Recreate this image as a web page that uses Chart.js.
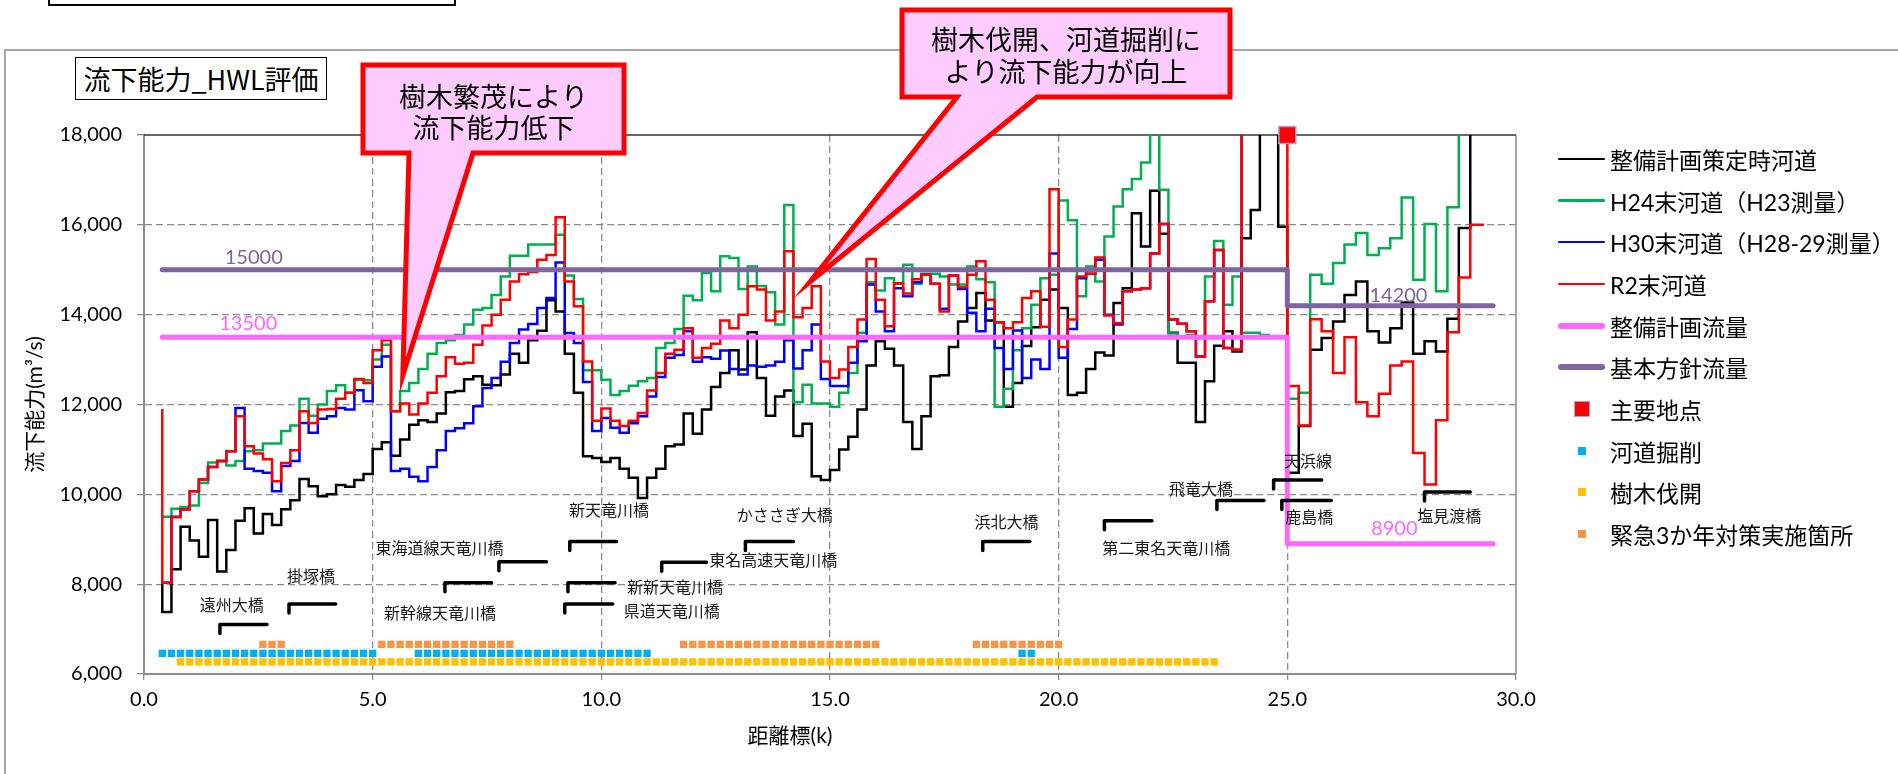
<!DOCTYPE html>
<html lang="ja">
<head>
<meta charset="utf-8">
<title>流下能力_HWL評価</title>
<script src="https://cdn.jsdelivr.net/npm/chart.js@4.4.1/dist/chart.umd.min.js"></script>
<style>
  html, body { margin: 0; padding: 0; background: #fff; }
  body { position: relative; width: 1898px; height: 774px; overflow: hidden;
         font-family: Lato, "Noto Sans CJK JP", sans-serif; color: #000; }
  .top-box { position: absolute; left: 48px; top: -40px; width: 404px; height: 42px; border: 2px solid #000; }
  .frame { position: absolute; left: 4px; top: 49px; width: 2000px; height: 900px; border: 2px solid #a6a6a6; }
  .chart-title { position: absolute; left: 75px; top: 57px; width: 250px; height: 41px;
                 border: 1.5px solid #000; background: #fff; font-size: 27px; line-height: 41px;
                 text-align: center; font-family: "Noto Sans CJK JP", sans-serif; }
  #flowChart { position: absolute; left: 0; top: 0; }
  #legend { position: absolute; left: 1558px; top: 138px; font-family: Lato, "Noto Sans CJK JP", sans-serif; }
  #legend .item { display: flex; align-items: center; height: 41.7px; font-size: 23px; white-space: nowrap; }
  #legend .mark { position: relative; width: 47px; height: 20px; margin-right: 5px; }
</style>
</head>
<body>
<div class="top-box"></div>
<div class="frame"></div>
<div class="chart-title">流下能力_HWL評価</div>
<canvas id="flowChart" width="1898" height="774"></canvas>
<div id="legend"></div>

<script>
// 測点(km)：24.8kまでは200m間隔、25.0k〜29.0kは250m間隔
const stations = [];
for (let k = 4; k <= 248; k += 2) stations.push(k / 10);
for (let k = 2500; k <= 2900; k += 25) stations.push(k / 100);

// 流下能力(m3/s) 各測点から次の測点まで
const planChannel = [
  7380, 8330, 9280, 8970, 8610, 9430, 8280, 8760, 9410, 9690,
  9130, 9560, 9320, 9670, 9870, 10340, 10180, 9960, 10000, 10210,
  10170, 10320, 10450, 11010, 11160, 10860, 11220, 11550, 11650, 11610,
  11800, 12270, 12300, 12560, 12630, 12440, 12430, 12670, 13130, 12930,
  13430, 13640, 14320, 14070, 13130, 12260, 10850, 10810, 10720, 10810,
  10570, 10370, 9920, 10370, 10570, 11070, 11110, 11800, 11350, 11890,
  12390, 12700, 13210, 12780, 13610, 12590, 11750, 12180, 12310, 11300,
  11570, 10400, 10320, 10540, 11000, 11280, 11890, 12870, 13410, 13240,
  12870, 11610, 11010, 11740, 12630, 12650, 13280, 13850, 14150, 14480,
  13870, 13830, 11950, 12480, 13300, 13720, 14330, 14560, 14150, 12210,
  12260, 12790, 13160, 13090, 14260, 14590, 16260, 15520, 16760, 15800,
  13600, 12930, 12930, 11610, 12520, 13310, 13630, 13180, 15700, 16330,
  19000, 19000, 15960,
  10480, 11520, 13220, 13480, 13850, 14440, 14740, 13630, 13380, 13700,
  14270, 13130, 13410, 13180, 13910, 15930, 19000
];
const h24Channel = [
  9500, 9680, 9720, 9750, 10250, 10710, 10740, 10640, 10740, 10960,
  10980, 11130, 11130, 11410, 11530, 12130, 11750, 12000, 12300, 12430,
  12260, 12550, 12540, 13000, 13330, 11850, 12300, 12480, 12790, 13130,
  13370, 13430, 13550, 13780, 14110, 14150, 14440, 14850, 15310, 15310,
  15560, 15560, 15560, 15780, 14870, 14350, 12760, 12760, 12550, 12210,
  12300, 12420, 12520, 12590, 13260, 13370, 13680, 14420, 14320, 14930,
  14520, 15300, 15260, 14570, 15070, 14640, 14500, 13780, 16440, 12050,
  12440, 12020, 12020, 11950, 12260, 12700, 13600, 14720, 14540, 14810,
  14690, 15110, 14690, 14910, 14910, 14850, 14670, 14670, 15070, 14790,
  14720, 11950, 12350, 13210, 13700, 14220, 14810, 14890, 16540, 16100,
  14410, 15070, 14740, 15740, 16410, 16790, 17020, 17390, 19000, 16780,
  13580, 13500, 13550, 13520, 14850, 15640, 14220, 14850, 13600, 13600,
  13550, 13500, 13500,
  12130, 12260, 14890, 14690, 15150, 15560, 15820, 15330, 15480, 15700,
  16610, 14780, 16020, 14520, 16390, 19000
];
const h30Channel = [
  8030, 9500, 9660, 10070, 10330, 10610, 10740, 10960, 11920, 10570,
  10520, 10480, 10070, 10630, 10740, 11590, 11370, 11680, 11740, 11920,
  11890, 12320, 12070, 12840, 13070, 10520, 10570, 10390, 10290, 10610,
  10980, 11410, 11470, 11580, 11960, 12370, 12590, 12950, 13370, 13670,
  13790, 14150, 14370, 15160, 13590, 13370, 12500, 11410, 11700, 11480,
  11370, 11580, 11740, 12180, 12610, 13040, 13100, 13630, 12950, 13050,
  13020, 13200, 12790, 12670, 12870, 12840, 12870, 12950, 13430, 12800,
  13210, 13780, 12570, 12410, 12410, 12930, 13410, 14670, 14070, 13630,
  14590, 14410, 14720, 14890, 14690, 14130, 14870, 14570, 14040, 13630,
  14130, 13260, 12790, 13650, 12590, 13000, 12790, 15360, 13040, 13680,
  14810, 14910, 15220, 14000, 13780, 14520, 14560, 14590, 15360, 16020,
  13890, 13800, 13630, 13070, 14300, 15440, 13260, 13220, 19000, 19000,
  19000, 19000, 19000
];
const r2Channel = [
  8030, 9490, 9660, 10070, 10330, 10610, 10740, 10960, 11740, 11070,
  10910, 10780, 10290, 10700, 10980, 11850, 11590, 11890, 11900, 12130,
  12260, 12570, 12480, 13210, 13430, 11850, 12020, 11780, 12020, 12260,
  12630, 13050, 12910, 12930, 13330, 13760, 14000, 14330, 14740, 14900,
  14950, 15220, 15330, 16170, 14740, 14190, 12960, 11640, 11910, 11640,
  11520, 11640, 11810, 12310, 12700, 13130, 13220, 13700, 13040, 13260,
  13350, 13870, 13700, 14000, 14630, 14560, 13870, 14070, 15410, 13940,
  14150, 14630, 12960, 12590, 12780, 13280, 13890, 15240, 14330, 13740,
  14700, 14470, 14790, 14890, 14690, 14070, 14870, 14610, 14890, 15190,
  14330, 13830, 13700, 13830, 14370, 14520, 13730, 16790, 13280, 13890,
  14850, 14910, 15270, 13980, 13810, 14520, 14560, 14590, 15360, 16020,
  13890, 13800, 13630, 13070, 14300, 15440, 13260, 13220, 19000, 19000,
  19000, 19000, 19000,
  12410, 11530, 13900, 13630, 12700, 13500, 12050, 11740, 12240, 12870,
  12960, 10920, 10220, 11650, 13610, 14830, 16000
];
// 0.4k端の立ち上がり
const planLeadIn = 8030;
const r2LeadIn = 11900;
// 各河道の終点(km)
const planEnd = 29.25, h24End = 29.0, h30End = 25.0, r2End = 29.3;

// 目標流量
const maintPlanKm = [0.4, 25.0, 25.0, 29.5];
const maintPlanFlow = [13500, 13500, 8900, 8900];
const basicPlanKm = [0.4, 25.0, 25.0, 29.5];
const basicPlanFlow = [15000, 15000, 14200, 14200];

// 主要地点
const keyPointKm = [25.0];
const keyPointFlow = [18000];

// 対策区間(km 範囲, 200mピッチ)
const excavationRanges = [[0.4, 5.0], [6.0, 11.0], [19.2, 19.4]];
const clearingRanges = [[0.8, 23.4]];
const urgentRanges = [[2.6, 3.0], [5.2, 8.0], [11.8, 16.0], [18.2, 20.0]];
const excavationLevel = 6460, clearingLevel = 6270, urgentLevel = 6660;

// 橋梁
const bridgeNames = ['遠州大橋', '掛塚橋', '新幹線天竜川橋', '東海道線天竜川橋', '新天竜川橋',
  '新新天竜川橋', '県道天竜川橋', '東名高速天竜川橋', 'かささぎ大橋', '浜北大橋',
  '第二東名天竜川橋', '飛竜大橋', '天浜線', '鹿島橋', '塩見渡橋'];
const bridgeFrom = [1.66, 3.17, 6.58, 7.76, 9.31, 9.27, 9.20, 11.32, 13.15, 18.34, 21.0, 23.46, 24.7, 24.88, 28.0];
const bridgeTo = [2.69, 4.19, 7.60, 8.80, 10.33, 10.30, 10.25, 12.30, 14.20, 19.37, 22.04, 24.49, 25.75, 25.96, 29.0];
const bridgeLevel = [7100, 7560, 8030, 8500, 8950, 8030, 7560, 8490, 8950, 8950, 9410, 9860, 10320, 9860, 10050];

// 橋梁名の表示位置(km, 流量)
const bridgeLabelKm = [1.92, 3.65, 6.47, 6.46, 10.17, 11.61, 11.54, 13.76, 14.01, 18.86, 22.35, 23.11, 25.45, 25.48, 28.54];
const bridgeLabelFlow = [7536, 8181, 7365, 8805, 9651, 7937, 7414, 8538, 9539, 9390, 8805, 10118, 10748, 9495, 9517];

const COLORS = {
    plan: '#000000', h24: '#00B050', h30: '#0000FF', r2: '#FF0000',
    maint: '#FF66FF', basic: '#8064A2',
    key: '#FF0000', excavation: '#00B0F0', clearing: '#FFC000', urgent: '#F79646'
};
const JP_FONT = 'Lato, "Noto Sans CJK JP", sans-serif';

function expandRanges(ranges) {
    const km = [];
    ranges.forEach(([a, b]) => {
        for (let k = Math.round(a * 10); k <= Math.round(b * 10); k += 2) km.push(k / 10);
    });
    return km;
}

function stepSeries(label, values, endKm, color, order, leadIn) {
    const pts = values.map((v, i) => ({ x: stations[i], y: v }));
    pts.push({ x: endKm, y: values[values.length - 1] });
    if (leadIn !== undefined) pts.unshift({ x: stations[0], y: leadIn });
    return { label, data: pts, borderColor: color, backgroundColor: color, borderWidth: 2.5,
             stepped: true, pointRadius: 0, fill: false, order };
}

function flowLine(label, km, flow, color, order) {
    return { label, data: km.map((k, i) => ({ x: k, y: flow[i] })), borderColor: color,
             backgroundColor: color, borderWidth: 5, borderCapStyle: 'round', borderJoinStyle: 'round',
             pointRadius: 0, fill: false, order };
}

function markerRow(label, km, level, color, order) {
    return { label, data: km.map(k => ({ x: k, y: level })), showLine: false, pointStyle: 'rect',
             pointRadius: 5.2, borderWidth: 0, backgroundColor: color, order };
}

function bridgeMark(i) {
    return { label: bridgeNames[i], data: [
                 { x: bridgeFrom[i], y: bridgeLevel[i] - 200 },
                 { x: bridgeFrom[i], y: bridgeLevel[i] },
                 { x: bridgeTo[i], y: bridgeLevel[i] }
             ], borderColor: '#000', borderWidth: 3.5, borderCapStyle: 'round',
             borderJoinStyle: 'round', pointRadius: 0, fill: false, order: 1 };
}

// 数値ラベル(流量線)
const flowLabels = [
    { value: basicPlanFlow[0], km: 2.40, lift: 12, color: COLORS.basic },
    { value: maintPlanFlow[0], km: 2.28, lift: 14, color: COLORS.maint },
    { value: basicPlanFlow[2], km: 27.43, lift: 10, color: COLORS.basic },
    { value: maintPlanFlow[2], km: 27.34, lift: 15, color: COLORS.maint }
];

// 吹き出し
const callouts = [
    { lines: ['樹木繁茂により', '流下能力低下'], box: [363, 65, 624, 153], base: [409, 473],
      tipKm: 5.66, tipFlow: 12650, textY: [97, 128] },
    { lines: ['樹木伐開、河道掘削に', 'より流下能力が向上'], box: [902, 10, 1230, 97], base: [957, 1037],
      tipKm: 14.56, tipFlow: 14730, textY: [40, 72] }
];

// 横軸タイトル(グラフ中央より少し左寄せ)
const xTitle = { text: '距離標(k)', x: 790, y: 736 };

function drawCallout(ctx, c, x, y) {
    const [x1, y1, x2, y2] = c.box;
    const tx = x.getPixelForValue(c.tipKm), ty = y.getPixelForValue(c.tipFlow);
    ctx.save();
    ctx.beginPath();
    ctx.moveTo(x1, y1);
    ctx.lineTo(x2, y1);
    ctx.lineTo(x2, y2);
    ctx.lineTo(c.base[1], y2);
    ctx.lineTo(tx, ty);
    ctx.lineTo(c.base[0], y2);
    ctx.lineTo(x1, y2);
    ctx.closePath();
    ctx.fillStyle = '#FFCCFF';
    ctx.fill();
    ctx.lineWidth = 5;
    ctx.lineJoin = 'miter';
    ctx.strokeStyle = '#FF0000';
    ctx.stroke();
    ctx.fillStyle = '#000';
    ctx.font = '27px "Noto Sans CJK JP", sans-serif';
    ctx.textAlign = 'center';
    ctx.textBaseline = 'middle';
    c.lines.forEach((t, i) => ctx.fillText(t, (x1 + x2) / 2, c.textY[i]));
    ctx.restore();
}

const annotationPlugin = {
    id: 'riverAnnotations',
    beforeDatasetsDraw(chart) {
        const { ctx, chartArea: a } = chart;
        ctx.save();
        ctx.lineWidth = 1.5;
        ctx.strokeStyle = '#8c8c8c';
        ctx.beginPath();
        ctx.moveTo(a.right, a.top);
        ctx.lineTo(a.right, a.bottom);
        ctx.stroke();
        ctx.strokeStyle = '#333';
        ctx.beginPath();
        ctx.moveTo(a.left, a.top);
        ctx.lineTo(a.right, a.top);
        ctx.stroke();
        ctx.restore();
    },
    afterDatasetsDraw(chart) {
        const { ctx, scales: { x, y } } = chart;
        ctx.save();
        ctx.textAlign = 'center';
        ctx.textBaseline = 'middle';
        ctx.font = '20px ' + JP_FONT;
        flowLabels.forEach(l => {
            ctx.fillStyle = l.color;
            ctx.fillText(String(l.value), x.getPixelForValue(l.km), y.getPixelForValue(l.value) - l.lift);
        });
        ctx.font = '16px "Noto Sans CJK JP", sans-serif';
        ctx.fillStyle = '#1a1a1a';
        bridgeNames.forEach((n, i) => {
            ctx.fillText(n, x.getPixelForValue(bridgeLabelKm[i]), y.getPixelForValue(bridgeLabelFlow[i]));
        });
        ctx.font = '21px ' + JP_FONT;
        ctx.fillStyle = '#000';
        ctx.fillText(xTitle.text, xTitle.x, xTitle.y);
        ctx.restore();
        callouts.forEach(c => drawCallout(ctx, c, x, y));
    }
};

document.addEventListener('DOMContentLoaded', function() {
    const gridColor = '#8c8c8c';
    const datasets = [
        stepSeries('整備計画策定時河道', planChannel, planEnd, COLORS.plan, 20, planLeadIn),
        stepSeries('H24末河道（H23測量）', h24Channel, h24End, COLORS.h24, 19),
        stepSeries('H30末河道（H28-29測量）', h30Channel, h30End, COLORS.h30, 18),
        stepSeries('R2末河道', r2Channel, r2End, COLORS.r2, 17, r2LeadIn),
        flowLine('整備計画流量', maintPlanKm, maintPlanFlow, COLORS.maint, 16),
        flowLine('基本方針流量', basicPlanKm, basicPlanFlow, COLORS.basic, 15),
        { label: '主要地点', data: keyPointKm.map((k, i) => ({ x: k, y: keyPointFlow[i] })),
          showLine: false, pointStyle: 'rect', pointRadius: 12, backgroundColor: COLORS.key,
          borderColor: '#B3A2C7', borderWidth: 1.5, clip: false, order: 14 },
        markerRow('河道掘削', expandRanges(excavationRanges), excavationLevel, COLORS.excavation, 13),
        markerRow('樹木伐開', expandRanges(clearingRanges), clearingLevel, COLORS.clearing, 12),
        markerRow('緊急3か年対策実施箇所', expandRanges(urgentRanges), urgentLevel, COLORS.urgent, 11)
    ];
    bridgeNames.forEach((n, i) => datasets.push(bridgeMark(i)));

    const ctx = document.getElementById('flowChart').getContext('2d');
    new Chart(ctx, {
        type: 'line',
        data: { datasets },
        options: {
            responsive: false,
            animation: false,
            events: [],
            layout: { padding: { top: 135, right: 382, bottom: 0, left: 0 } },
            plugins: { legend: { display: false }, tooltip: { enabled: false } },
            scales: {
                x: {
                    type: 'linear', min: 0, max: 30,
                    ticks: { stepSize: 5, callback: v => v.toFixed(1), color: '#000',
                             font: { size: 20, family: JP_FONT }, padding: 8, maxRotation: 0 },
                    grid: {
                        color: c => (c.tick && (c.tick.value === 0 || c.tick.value === 30)) ? 'rgba(0,0,0,0)' : gridColor,
                        lineWidth: 1.3, tickColor: gridColor, tickLength: 6
                    },
                    border: { color: gridColor, width: 2, dash: [7, 4] },
                    afterFit: s => { s.height = 100; }
                },
                y: {
                    min: 6000, max: 18000,
                    ticks: { stepSize: 2000, callback: v => v.toLocaleString('en-US'), color: '#000',
                             font: { size: 20, family: JP_FONT }, padding: 15 },
                    grid: {
                        color: c => (c.tick && (c.tick.value === 6000 || c.tick.value === 18000)) ? 'rgba(0,0,0,0)' : gridColor,
                        lineWidth: 1.3, tickColor: gridColor, tickLength: 7
                    },
                    border: { color: gridColor, width: 2, dash: [7, 4] },
                    title: { display: true, text: '流下能力(m³/s)', color: '#000',
                             font: { size: 21, family: JP_FONT }, padding: { top: 23, bottom: 0 } },
                    afterFit: s => { s.width = 144; }
                }
            }
        },
        plugins: [annotationPlugin]
    });

    // 凡例
    const legendEntries = [
        { text: '整備計画策定時河道', line: 2.5, color: COLORS.plan },
        { text: 'H24末河道（H23測量）', line: 2.5, color: COLORS.h24 },
        { text: 'H30末河道（H28-29測量）', line: 2.5, color: COLORS.h30 },
        { text: 'R2末河道', line: 2.5, color: COLORS.r2 },
        { text: '整備計画流量', line: 6, color: COLORS.maint },
        { text: '基本方針流量', line: 6, color: COLORS.basic },
        { text: '主要地点', square: 16, color: COLORS.key, border: '#B3A2C7' },
        { text: '河道掘削', square: 8, color: COLORS.excavation },
        { text: '樹木伐開', square: 8, color: COLORS.clearing },
        { text: '緊急3か年対策実施箇所', square: 8, color: COLORS.urgent }
    ];
    const legend = document.getElementById('legend');
    legendEntries.forEach(e => {
        const item = document.createElement('div');
        item.className = 'item';
        const mark = document.createElement('span');
        mark.className = 'mark';
        const shape = document.createElement('span');
        if (e.line) {
            shape.style.cssText = `position:absolute;left:0;right:0;top:50%;height:${e.line}px;` +
                `margin-top:${-e.line / 2}px;background:${e.color};border-radius:${e.line / 2}px`;
        } else {
            shape.style.cssText = `position:absolute;left:${23.5 - e.square / 2}px;top:50%;width:${e.square}px;` +
                `height:${e.square}px;margin-top:${-e.square / 2}px;background:${e.color};box-sizing:border-box;` +
                (e.border ? `border:1.5px solid ${e.border}` : '');
        }
        mark.appendChild(shape);
        item.appendChild(mark);
        item.appendChild(document.createTextNode(e.text));
        legend.appendChild(item);
    });
});
</script>
</body>
</html>
